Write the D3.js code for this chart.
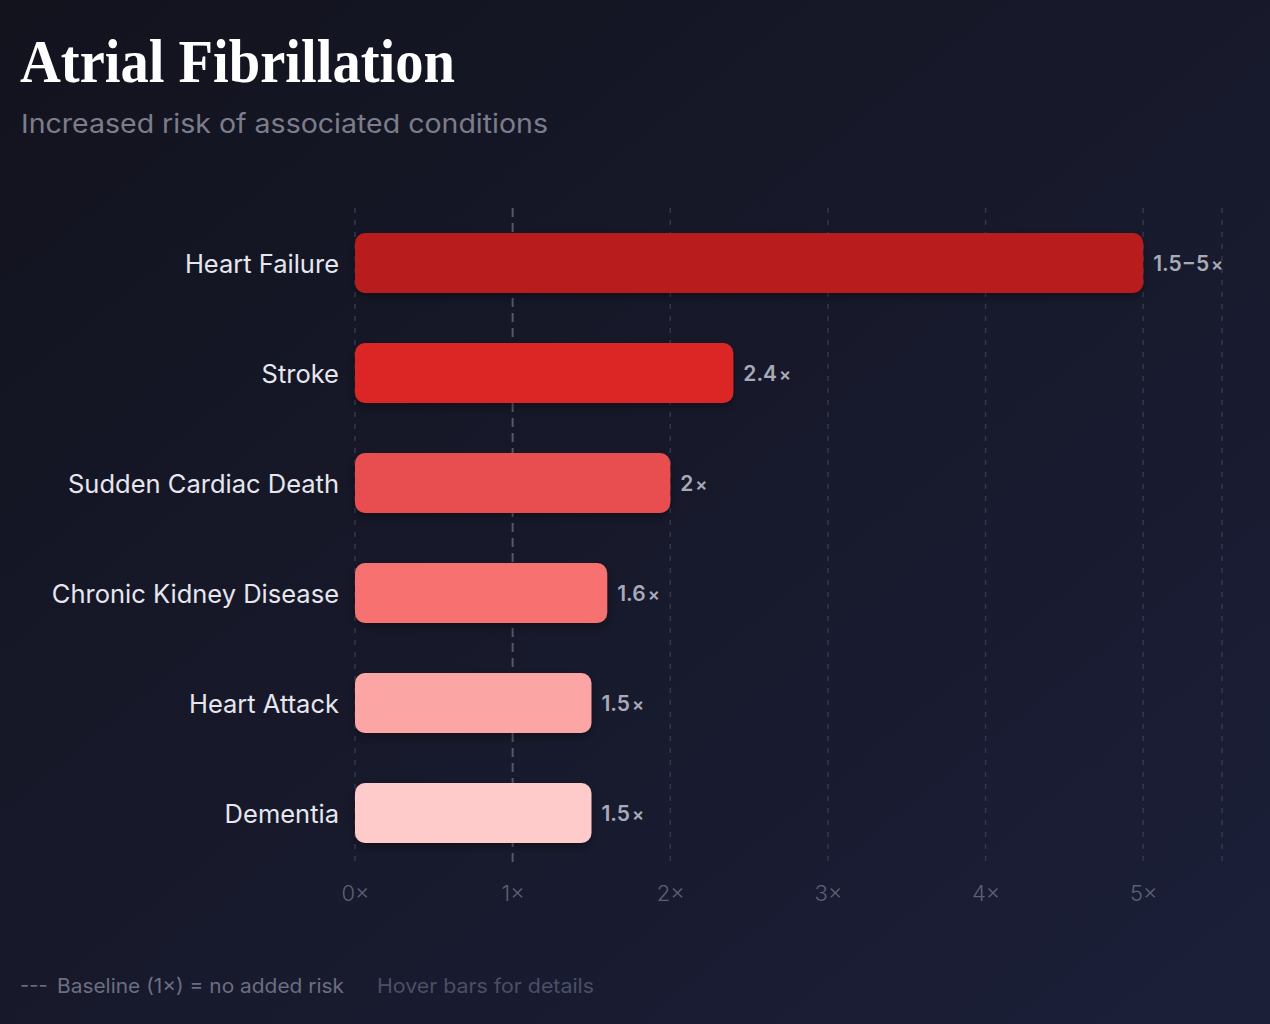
<!DOCTYPE html>
<html>
<head>
<meta charset="utf-8">
<script src="https://cdn.jsdelivr.net/npm/d3@7"></script>
<style>
  html, body { margin: 0; padding: 0; background: #161827; }
  svg { display: block; }
</style>
</head>
<body>
<svg id="chart" width="1270" height="1024"></svg>
<script>
// data
const conditions = ['Heart Failure', 'Stroke', 'Sudden Cardiac Death', 'Chronic Kidney Disease', 'Heart Attack', 'Dementia'];
const risk = [5, 2.4, 2, 1.6, 1.5, 1.5];
const riskLabels = ['1.5\u22125', '2.4', '2', '1.6', '1.5', '1.5'];
const barColors = ['#b91c1c', '#dc2626', '#e84d4f', '#f87171', '#fca5a5', '#fecaca'];
const ticks = [0, 1, 2, 3, 4, 5];

const W = 1270, H = 1024;
const svg = d3.select('#chart');

const defs = svg.append('defs');
const bg = defs.append('linearGradient').attr('id', 'bg')
  .attr('x1', 0).attr('y1', 0).attr('x2', 1).attr('y2', 1);
bg.append('stop').attr('offset', '0%').attr('stop-color', '#13131e');
bg.append('stop').attr('offset', '100%').attr('stop-color', '#1b1f38');

const shadow = defs.append('filter').attr('id', 'shadow')
  .attr('x', '-10%').attr('y', '-30%').attr('width', '120%').attr('height', '170%');
shadow.append('feDropShadow').attr('dx', 0).attr('dy', 4).attr('stdDeviation', 5)
  .attr('flood-color', '#000').attr('flood-opacity', 0.35);

svg.append('rect').attr('width', W).attr('height', H).attr('fill', 'url(#bg)');

// header
svg.append('text')
  .attr('x', 20).attr('y', 82)
  .attr('font-family', '"Liberation Serif", "DejaVu Serif", serif')
  .attr('font-weight', 700).attr('font-size', 62)
  .attr('textLength', 435).attr('lengthAdjust', 'spacingAndGlyphs')
  .attr('fill', '#ffffff')
  .text('Atrial Fibrillation');

svg.append('text')
  .attr('x', 21).attr('y', 133)
  .attr('font-family', 'Inter, "Noto Sans", sans-serif')
  .attr('font-size', 26).attr('fill', '#7c7d8c')
  .attr('textLength', 527).attr('lengthAdjust', 'spacingAndGlyphs')
  .text('Increased risk of associated conditions');

// scales
const x = d3.scaleLinear().domain([0, 5.5]).range([355, 1222]);
const y = d3.scaleBand().domain(conditions).range([208, 868])
  .paddingInner(0.4545).paddingOuter(0.227);

// grid
const grid = svg.append('g');
grid.selectAll('line')
  .data(ticks.concat([5.5]).filter(d => d !== 1))
  .join('line')
    .attr('x1', d => x(d)).attr('x2', d => x(d))
    .attr('y1', 208).attr('y2', 862)
    .attr('stroke', '#34374d').attr('stroke-width', 1.5)
    .attr('stroke-dasharray', '5,7');

// baseline at 1x
svg.append('line')
  .attr('x1', x(1)).attr('x2', x(1))
  .attr('y1', 208).attr('y2', 868)
  .attr('stroke', '#55586c').attr('stroke-width', 2)
  .attr('stroke-dasharray', '9,6');

// axis
const axis = svg.append('g')
  .attr('transform', 'translate(0,898)')
  .call(d3.axisBottom(x).tickValues(ticks).tickSize(0).tickFormat(d => d + '\u00d7'));
axis.select('.domain').remove();
axis.selectAll('text')
  .attr('dy', 0)
  .attr('font-family', 'Inter, "Noto Sans", sans-serif')
  .attr('font-weight', 300).attr('font-size', 22)
  .attr('fill', '#5d6074');

// bars
svg.append('g')
  .selectAll('rect')
  .data(conditions)
  .join('rect')
    .attr('x', x(0))
    .attr('y', d => y(d))
    .attr('width', (d, i) => x(risk[i]) - x(0))
    .attr('height', y.bandwidth())
    .attr('rx', 10).attr('ry', 10)
    .attr('fill', (d, i) => barColors[i])
    .attr('filter', 'url(#shadow)');

// category labels
svg.append('g')
  .selectAll('text')
  .data(conditions)
  .join('text')
    .attr('x', 339)
    .attr('y', d => y(d) + y.bandwidth() / 2)
    .attr('dy', '0.4em')
    .attr('text-anchor', 'end')
    .attr('font-family', 'Inter, "Noto Sans", sans-serif')
    .attr('font-size', 25.5).attr('fill', '#e6e6ee')
    .text(d => d);

// value labels
const vals = svg.append('g')
  .selectAll('text')
  .data(conditions)
  .join('text')
    .attr('x', (d, i) => x(risk[i]) + 10)
    .attr('y', d => y(d) + y.bandwidth() / 2)
    .attr('dy', '0.4em')
    .attr('font-family', 'Inter, "Noto Sans", sans-serif')
    .attr('font-weight', 600).attr('font-size', 21)
    .attr('fill', '#a9aab8');
vals.append('tspan').text((d, i) => riskLabels[i]);
vals.append('tspan').attr('font-size', 18).attr('dx', 2).text('\u00d7');

// footer
svg.append('text')
  .attr('x', 20).attr('y', 992)
  .attr('font-family', 'Inter, "Noto Sans", sans-serif')
  .attr('font-size', 20).attr('fill', '#6c6e82')
  .text('---');
svg.append('text')
  .attr('x', 57).attr('y', 993)
  .attr('font-family', 'Inter, "Noto Sans", sans-serif')
  .attr('font-size', 20).attr('fill', '#6c6e82')
  .attr('textLength', 287).attr('lengthAdjust', 'spacingAndGlyphs')
  .text('Baseline (1\u00d7) = no added risk');
svg.append('text')
  .attr('x', 377).attr('y', 993)
  .attr('font-family', 'Inter, "Noto Sans", sans-serif')
  .attr('font-size', 20).attr('fill', '#4c4f66')
  .attr('textLength', 217).attr('lengthAdjust', 'spacingAndGlyphs')
  .text('Hover bars for details');
</script>
</body>
</html>
